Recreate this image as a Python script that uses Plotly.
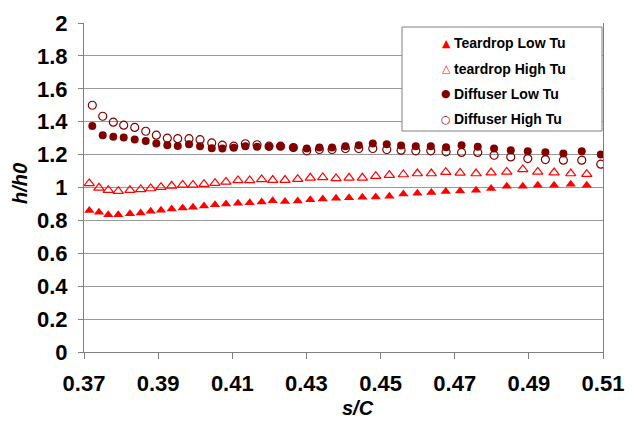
import plotly.graph_objects as go

# s/C sampling for each geometry
s_teardrop = [0.37143, 0.37404, 0.37655, 0.37925, 0.38240, 0.38529, 0.38799, 0.39077, 0.39365,
              0.39662, 0.39940, 0.40237, 0.40534, 0.40830, 0.41154, 0.41470, 0.41793, 0.42090,
              0.42422, 0.42765, 0.43105, 0.43440, 0.43799, 0.44150, 0.44509, 0.44870, 0.45237,
              0.45615, 0.45993, 0.46370, 0.46759, 0.47145, 0.47576, 0.47981, 0.48404, 0.48836,
              0.49240, 0.49680, 0.50130, 0.50562]
teardrop_low = [0.860, 0.850, 0.835, 0.835, 0.840, 0.845, 0.855, 0.862, 0.870, 0.875,
                0.880, 0.888, 0.895, 0.900, 0.905, 0.908, 0.912, 0.920, 0.915, 0.918,
                0.925, 0.930, 0.935, 0.937, 0.940, 0.942, 0.947, 0.960, 0.965, 0.970,
                0.975, 0.978, 0.984, 0.994, 1.008, 1.008, 1.014, 1.014, 1.020, 1.014]
teardrop_high = [1.025, 0.998, 0.984, 0.978, 0.984, 0.988, 0.994, 1.002, 1.010, 1.016,
                 1.016, 1.020, 1.026, 1.034, 1.043, 1.043, 1.049, 1.045, 1.045, 1.051,
                 1.059, 1.061, 1.055, 1.059, 1.059, 1.069, 1.075, 1.079, 1.085, 1.085,
                 1.093, 1.089, 1.085, 1.091, 1.095, 1.110, 1.095, 1.091, 1.085, 1.081]

s_diffuser = [0.37224, 0.37505, 0.37791, 0.38071, 0.38368, 0.38665, 0.38951, 0.39248, 0.39529,
              0.39833, 0.40130, 0.40446, 0.40732, 0.41039, 0.41352, 0.41668, 0.41992, 0.42302,
              0.42648, 0.43009, 0.43349, 0.43692, 0.44051, 0.44412, 0.44790, 0.45167, 0.45553,
              0.45950, 0.46354, 0.46767, 0.47185, 0.47622, 0.48062, 0.48512, 0.48971, 0.49446,
              0.49931, 0.50427, 0.50940]
diffuser_low = [1.374, 1.318, 1.308, 1.304, 1.292, 1.282, 1.268, 1.257, 1.253, 1.263,
                1.251, 1.239, 1.237, 1.241, 1.251, 1.247, 1.247, 1.251, 1.243, 1.237,
                1.243, 1.243, 1.251, 1.257, 1.268, 1.263, 1.255, 1.251, 1.251, 1.245,
                1.257, 1.247, 1.237, 1.227, 1.221, 1.215, 1.207, 1.221, 1.201]
diffuser_high = [1.500, 1.433, 1.397, 1.379, 1.365, 1.342, 1.318, 1.300, 1.297, 1.297,
                 1.291, 1.271, 1.257, 1.251, 1.266, 1.260, 1.251, 1.251, 1.243, 1.223,
                 1.231, 1.231, 1.237, 1.237, 1.237, 1.231, 1.227, 1.223, 1.223, 1.217,
                 1.213, 1.213, 1.196, 1.186, 1.176, 1.170, 1.166, 1.166, 1.142]

series_names = ["Teardrop Low Tu", "teardrop High Tu", "Diffuser Low Tu", "Diffuser High Tu"]
legend_glyphs = ["\u25B2", "\u25B3", "\u25CF", "\u25CB"]

x_ticks = [0.37, 0.39, 0.41, 0.43, 0.45, 0.47, 0.49, 0.51]
y_ticks = [0, 0.2, 0.4, 0.6, 0.8, 1, 1.2, 1.4, 1.6, 1.8, 2]

RED = "#FF0000"
MAROON = "#800000"
FONT = "Liberation Sans, Arial, sans-serif"
colors = [RED, RED, MAROON, MAROON]

W, H = 634, 421
L, R, T, B = 84, 31, 23, 69
PW, PH = W - L - R, H - T - B


def px_to_paper(xp, yp):
    return (xp - L) / PW, (H - B - yp) / PH


fig = go.Figure()
fig.add_trace(go.Scatter(x=s_teardrop, y=teardrop_low, mode="markers", name=series_names[0],
                         marker=dict(symbol="triangle-up", size=9, color=RED)))
fig.add_trace(go.Scatter(x=s_teardrop, y=teardrop_high, mode="markers", name=series_names[1],
                         marker=dict(symbol="triangle-up-open", size=9, color=RED, line=dict(width=1.2))))
fig.add_trace(go.Scatter(x=s_diffuser, y=diffuser_low, mode="markers", name=series_names[2],
                         marker=dict(symbol="circle", size=8, color=MAROON)))
fig.add_trace(go.Scatter(x=s_diffuser, y=diffuser_high, mode="markers", name=series_names[3],
                         marker=dict(symbol="circle-open", size=8, color=MAROON, line=dict(width=1.2))))

# legend box
x0, y0 = px_to_paper(402, 131)
x1, y1 = px_to_paper(602, 27)
shapes = [dict(type="rect", xref="paper", yref="paper", x0=x0, y0=y0, x1=x1, y1=y1,
               fillcolor="white", line=dict(color="#808080", width=1), layer="above")]
annotations = []
row_y = [43, 68.5, 94, 119]
for name, glyph, col, ry in zip(series_names, legend_glyphs, colors, row_y):
    gx, gy = px_to_paper(446, ry)
    tx, _ = px_to_paper(452, ry)
    annotations.append(dict(xref="paper", yref="paper", x=gx, y=gy, text=glyph, showarrow=False,
                            xanchor="center", yanchor="middle",
                            font=dict(size=11, color=col, family="DejaVu Sans")))
    annotations.append(dict(xref="paper", yref="paper", x=tx, y=gy, text="<b>" + name + "</b>",
                            showarrow=False, xanchor="left", yanchor="middle",
                            font=dict(size=14, color="black", family=FONT)))

# axis titles placed as text in pixel positions
ax, ay = px_to_paper(358, 408)
annotations.append(dict(xref="paper", yref="paper", x=ax, y=ay, text="<b><i>s/C</i></b>",
                        showarrow=False, xanchor="center", yanchor="middle",
                        font=dict(size=20, family=FONT, color="black")))
bx, by = px_to_paper(20, 184)
annotations.append(dict(xref="paper", yref="paper", x=bx, y=by, text="<b><i>h/h0</i></b>",
                        showarrow=False, xanchor="center", yanchor="middle", textangle=-90,
                        font=dict(size=20, family=FONT, color="black")))

fig.update_layout(
    width=W, height=H,
    margin=dict(l=L, r=R, t=T, b=B, autoexpand=False),
    paper_bgcolor="white", plot_bgcolor="white",
    font=dict(family=FONT, color="black"),
    showlegend=False,
    shapes=shapes,
    annotations=annotations,
    xaxis=dict(range=[0.37, 0.51], tickvals=x_ticks, ticktext=[f"{v:.2f}" for v in x_ticks],
               showgrid=False, zeroline=False, automargin=False,
               showline=True, linecolor="#808080", linewidth=1, mirror=False,
               ticks="outside", ticklen=6, tickcolor="#808080",
               tickfont=dict(size=22, family=FONT, weight="bold"),
               ticklabelstandoff=6),
    yaxis=dict(range=[0, 2], tickvals=y_ticks, ticktext=[f"{v:g}" for v in y_ticks],
               showgrid=True, gridcolor="#999999", gridwidth=1, zeroline=False, automargin=False,
               showline=True, linecolor="#808080", linewidth=1, mirror=True,
               ticks="outside", ticklen=5, tickcolor="#808080",
               tickfont=dict(size=22, family=FONT, weight="bold"),
               ticklabelstandoff=6),
)

fig.write_html("out.html")
